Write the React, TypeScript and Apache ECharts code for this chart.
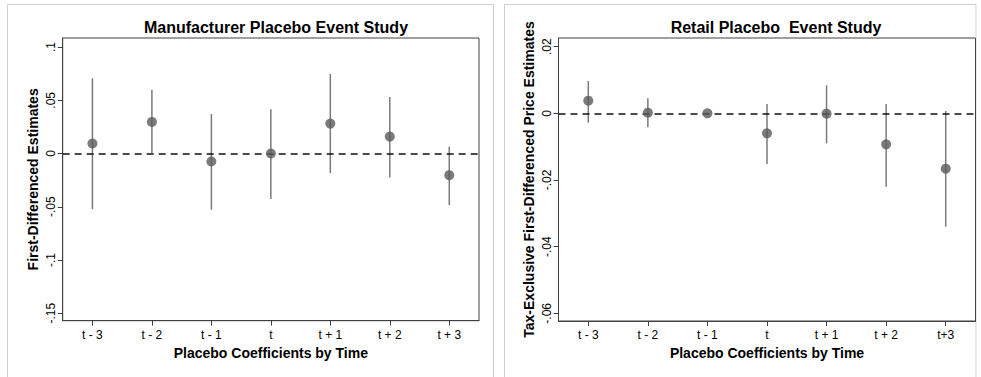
import React, { useEffect, useRef } from "react";
import * as echarts from "echarts";

const categoriesMfg = ["t - 3", "t - 2", "t - 1", "t", "t + 1", "t + 2", "t + 3"];
const categoriesRetail = ["t - 3", "t - 2", "t - 1", "t", "t + 1", "t + 2", "t+3"];

const mfgEstimates = [0.0094, 0.0297, -0.0075, 0.0, 0.0281, 0.0159, -0.0203];
const mfgLower = [-0.0522, 0.0005, -0.0528, -0.0428, -0.0184, -0.0225, -0.0484];
const mfgUpper = [0.0707, 0.0598, 0.0372, 0.0416, 0.0747, 0.0532, 0.0066];

const retailEstimates = [0.0038, 0.0002, 0.0, -0.006, -0.0001, -0.0093, -0.0166];
const retailLower = [-0.0028, -0.0042, -0.0003, -0.0152, -0.009, -0.022, -0.034];
const retailUpper = [0.0097, 0.0045, 0.0003, 0.0028, 0.0084, 0.0028, 0.0007];

const mfgTicks = [-0.15, -0.1, -0.05, 0, 0.05, 0.1];
const retailTicks = [-0.06, -0.04, -0.02, 0, 0.02];

const FONT = "'Liberation Sans', Arial, Helvetica, sans-serif";

const fmt = (v: number) => {
  if (Math.abs(v) < 1e-12) return "0";
  const s = String(Math.abs(Number(v.toFixed(4)))).replace(/^0/, "");
  return (v < 0 ? "-" : "") + s;
};

function xAxisCfg(gridIndex: number, data: string[]) {
  return {
    type: "category",
    gridIndex,
    data,
    boundaryGap: true,
    axisLine: { show: true, onZero: false, lineStyle: { color: "#404040", width: 1 } },
    axisTick: { show: true, alignWithLabel: true, length: 5, lineStyle: { color: "#404040" } },
    axisLabel: { margin: 8, fontSize: 12, color: "#000", fontFamily: FONT },
    splitLine: { show: false },
    name: "Placebo Coefficients by Time",
    nameLocation: "middle",
    nameGap: 25,
    nameTextStyle: { fontSize: 14, fontWeight: "bold", color: "#000", fontFamily: FONT },
  };
}

function yAxisCfg(gridIndex: number, min: number, max: number, ticks: number[], name: string) {
  return {
    type: "value",
    gridIndex,
    min,
    max,
    axisLine: { show: true, onZero: false, lineStyle: { color: "#404040", width: 1 } },
    axisTick: { show: true, length: 5, customValues: ticks, lineStyle: { color: "#404040" } },
    axisLabel: {
      customValues: ticks,
      rotate: 90,
      margin: 6,
      fontSize: 12,
      color: "#000",
      fontFamily: FONT,
      formatter: (v: number) => fmt(v),
    },
    splitLine: { show: false },
    name,
    nameLocation: "middle",
    nameGap: 23,
    nameTextStyle: { fontSize: 14, fontWeight: "bold", color: "#000", fontFamily: FONT },
  };
}

function errorSeries(idx: number, lower: number[], upper: number[]) {
  return {
    type: "custom",
    xAxisIndex: idx,
    yAxisIndex: idx,
    z: 2,
    data: lower.map((lo, i) => [i, lo, upper[i]]),
    renderItem: (params: any, api: any) => {
      const i = api.value(0);
      const p1 = api.coord([i, api.value(1)]);
      const p2 = api.coord([i, api.value(2)]);
      return {
        type: "line",
        shape: { x1: p1[0], y1: p1[1], x2: p2[0], y2: p2[1] },
        style: { stroke: "#7a7a7a", lineWidth: 1.5 },
      };
    },
    markLine: {
      silent: true,
      symbol: "none",
      label: { show: false },
      lineStyle: { color: "#111", type: [7, 5], width: 1.5 },
      data: [{ yAxis: 0 }],
    },
  };
}

function pointSeries(idx: number, est: number[]) {
  return {
    type: "scatter",
    xAxisIndex: idx,
    yAxisIndex: idx,
    z: 5,
    symbol: "circle",
    symbolSize: 10,
    itemStyle: { color: "#5a5a5a" },
    data: est.map((v, i) => [i, v]),
  };
}

export default function App() {
  const ref = useRef<HTMLDivElement>(null);
  useEffect(() => {
    if (!ref.current) return;
    const chart = echarts.init(ref.current, undefined, { renderer: "svg" });
    chart.setOption({
      animation: false,
      backgroundColor: "#fff",
      textStyle: { fontFamily: FONT },
      graphic: [
        { type: "rect", shape: { x: 7.5, y: 4.5, width: 486, height: 400 }, style: { fill: "none", stroke: "#cfcfcf", lineWidth: 1 }, z: -1 },
        { type: "rect", shape: { x: 504.5, y: 4.5, width: 471.5, height: 400 }, style: { fill: "none", stroke: "#cfcfcf", lineWidth: 1 }, z: -1 },
      ],
      title: [
        { text: "Manufacturer Placebo Event Study", left: 271, top: 14, textAlign: "center", textStyle: { fontSize: 16, fontWeight: "bold", color: "#000", fontFamily: FONT } },
        { text: "Retail Placebo  Event Study", left: 771, top: 14, textAlign: "center", textStyle: { fontSize: 16, fontWeight: "bold", color: "#000", fontFamily: FONT } },
      ],
      grid: [
        { left: 62.7, top: 38, width: 416.3, height: 282.7, show: true, borderColor: "#404040", borderWidth: 1, backgroundColor: "transparent" },
        { left: 558.5, top: 38, width: 417, height: 283, show: true, borderColor: "#404040", borderWidth: 1, backgroundColor: "transparent" },
      ],
      xAxis: [xAxisCfg(0, categoriesMfg), xAxisCfg(1, categoriesRetail)],
      yAxis: [
        yAxisCfg(0, -0.157, 0.1085, mfgTicks, "First-Differenced Estimates"),
        yAxisCfg(1, -0.0623, 0.0226, retailTicks, "Tax-Exclusive First-Differenced Price Estimates"),
      ],
      series: [
        errorSeries(0, mfgLower, mfgUpper),
        pointSeries(0, mfgEstimates),
        errorSeries(1, retailLower, retailUpper),
        pointSeries(1, retailEstimates),
      ],
    });
    return () => chart.dispose();
  }, []);
  return <div ref={ref} style={{ position: "fixed", left: 0, top: 0, width: 981, height: 377 }} />;
}
